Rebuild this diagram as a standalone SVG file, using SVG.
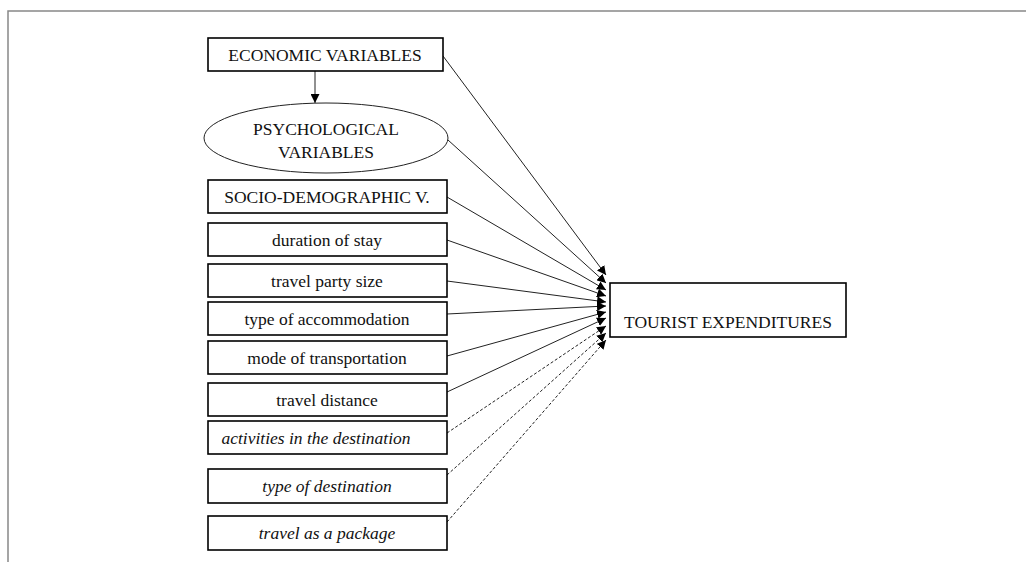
<svg xmlns="http://www.w3.org/2000/svg" width="1026" height="562" viewBox="0 0 1026 562">
<style>
.box{fill:#fff;stroke:#000;stroke-width:1.6}
.ell{fill:#fff;stroke:#222;stroke-width:1}
text{font-family:'Liberation Serif','Times New Roman','DejaVu Serif',serif;font-size:17.5px;fill:#111;text-anchor:middle}
.i{font-style:italic}
.c{stroke:#222;stroke-width:1;fill:none}
.d{stroke-dasharray:3,2}
</style>
<defs>
<marker id="ah" viewBox="0 0 10 10" refX="10" refY="5" markerWidth="9" markerHeight="9" markerUnits="userSpaceOnUse" orient="auto">
<path d="M0,0 L10,5 L0,10 z" fill="#000"/>
</marker>
</defs>
<rect width="1026" height="562" fill="#fff"/>
<path d="M8,562 V11 H1026" fill="none" stroke="#888" stroke-width="1.5"/>
<g id="connectors">
<line class="c" x1="315" y1="71" x2="315" y2="103" marker-end="url(#ah)"/>
<line class="c" x1="443" y1="56" x2="606" y2="275" marker-end="url(#ah)"/>
<line class="c" x1="448" y1="140" x2="606" y2="283" marker-end="url(#ah)"/>
<line class="c" x1="447" y1="197" x2="606" y2="290" marker-end="url(#ah)"/>
<line class="c" x1="447" y1="240" x2="606" y2="296" marker-end="url(#ah)"/>
<line class="c" x1="447" y1="281" x2="606" y2="302" marker-end="url(#ah)"/>
<line class="c" x1="447" y1="314" x2="606" y2="306" marker-end="url(#ah)"/>
<line class="c" x1="447" y1="356" x2="606" y2="312" marker-end="url(#ah)"/>
<line class="c" x1="447" y1="392" x2="606" y2="318" marker-end="url(#ah)"/>
<line class="c d" x1="447" y1="433" x2="606" y2="326" marker-end="url(#ah)"/>
<line class="c d" x1="447" y1="475" x2="606" y2="333" marker-end="url(#ah)"/>
<line class="c d" x1="447" y1="522" x2="606" y2="340" marker-end="url(#ah)"/>
</g>
<g id="economic"><rect class="box" x="208" y="38" width="235" height="33"/><text x="325" y="61">ECONOMIC VARIABLES</text></g>
<g id="psychological"><ellipse class="ell" cx="326" cy="138" rx="122" ry="35"/><text x="326" y="135">PSYCHOLOGICAL</text><text x="326" y="158">VARIABLES</text></g>
<g id="socio"><rect class="box" x="208" y="180" width="239" height="33"/><text x="327" y="203">SOCIO-DEMOGRAPHIC V.</text></g>
<g id="duration"><rect class="box" x="208" y="223" width="239" height="33"/><text x="327" y="246">duration of stay</text></g>
<g id="party"><rect class="box" x="208" y="264" width="239" height="33"/><text x="327" y="287">travel party size</text></g>
<g id="accommodation"><rect class="box" x="208" y="302" width="239" height="33"/><text x="327" y="325">type of accommodation</text></g>
<g id="mode"><rect class="box" x="208" y="341" width="239" height="33"/><text x="327" y="364">mode of transportation</text></g>
<g id="distance"><rect class="box" x="208" y="383" width="239" height="33"/><text x="327" y="406">travel distance</text></g>
<g id="activities"><rect class="box" x="208" y="421" width="239" height="33"/><text class="i" x="316" y="444">activities in the destination</text></g>
<g id="destination"><rect class="box" x="208" y="469" width="239" height="34"/><text class="i" x="327" y="492">type of destination</text></g>
<g id="package"><rect class="box" x="208" y="516" width="239" height="34"/><text class="i" x="327" y="539">travel as a package</text></g>
<g id="tourist"><rect class="box" x="610" y="283" width="236" height="54"/><text x="728" y="328">TOURIST EXPENDITURES</text></g>
</svg>
